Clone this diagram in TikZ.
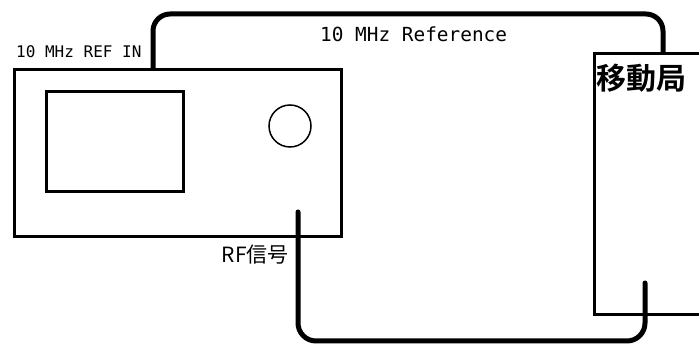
\documentclass[tikz,border=0pt]{standalone}
\usepackage{fontspec}
\newfontfamily\cjkfont{Noto Sans CJK JP}
\newfontfamily\cjkbold{Noto Sans CJK JP}[UprightFont={* Bold}]
\newfontfamily\monofont{DejaVu Sans Mono}
\begin{document}
\begin{tikzpicture}[x=1pt,y=-1pt,
  box/.style={draw, line width=3.2pt, inner sep=0pt, anchor=north west},
  knob/.style={draw, circle, line width=1.5pt, inner sep=0pt, minimum size=42pt},
  cable/.style={draw, line width=5pt, line cap=round, line join=round},
  lbl/.style={inner sep=0pt, text=black}]
\useasboundingbox (0,0) rectangle (699,347);
\clip (0,0) rectangle (699,347);
% instrument
\node[box, minimum width=327pt, minimum height=167pt] (inst) at (13,68) {};
\node[box, minimum width=137pt, minimum height=100pt] (screen) at (45,90) {};
\node[knob] (knob) at (290,126) {};
% mobile station
\node[box, minimum width=150pt, minimum height=261pt] (st) at (593,52) {};
\node[lbl, anchor=base west, font=\cjkbold\fontsize{30}{30}\selectfont] (stlabel) at (596,90) {移動局};
% ports
\coordinate (refport) at (153,68);
\coordinate (stref) at (663,52);
\coordinate (rfout) at (298,212);
\coordinate (strf) at (645,283);
% cables
\draw[cable, rounded corners=17pt] (refport) -- ++(0,-54) -| (stref);
\draw[cable, rounded corners=18pt] (rfout) -- ++(0,129) -| (strf);
% labels
\node[lbl, anchor=base west, font=\monofont\fontsize{16}{16}\selectfont] (refin) at (16,58) {10 MHz REF IN};
\node[lbl, anchor=base west, font=\monofont\fontsize{19.4}{19.4}\selectfont] (reflabel) at (320,42) {10 MHz Reference};
\node[lbl, anchor=base east, font=\cjkfont\fontsize{21}{21}\selectfont] (rflabel) at (289,263) {RF信号};
\end{tikzpicture}
\end{document}
